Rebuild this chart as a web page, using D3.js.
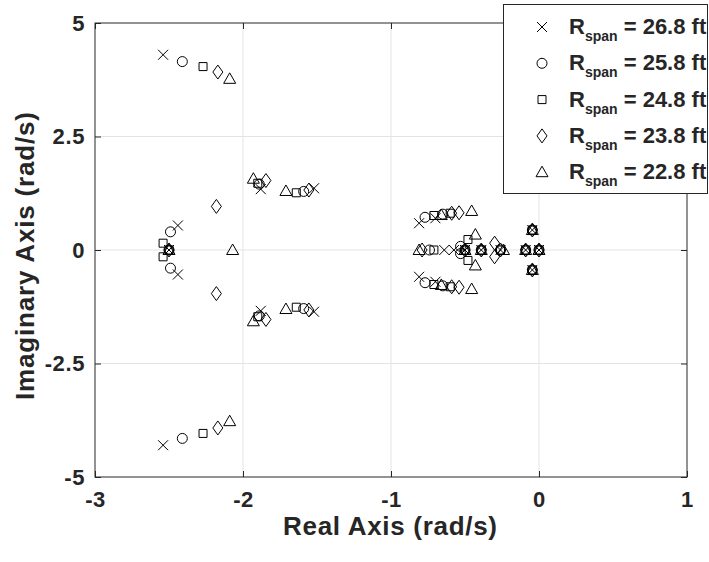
<!DOCTYPE html>
<html><head><meta charset="utf-8">
<script src="https://cdn.jsdelivr.net/npm/d3@7"></script>
<style>body{margin:0;background:#fff}svg{display:block}text{font-family:"Liberation Sans",Arial,sans-serif;font-weight:bold;fill:#262626}</style>
</head><body><svg id="c" width="709" height="562"></svg>
<script>
// ---- data ----
const spanLabels = ["26.8", "25.8", "24.8", "23.8", "22.8"];
const markerTypes = ["x", "circle", "square", "diamond", "triangle"];
const xTicks = [-3, -2, -1, 0, 1];
const yTicks = [-5, -2.5, 0, 2.5, 5];
const xLabel = "Real Axis (rad/s)";
const yLabel = "Imaginary Axis (rad/s)";

const poles268 = [[-2.54,4.30],[-2.54,-4.30],[-2.44,0.54],[-2.44,-0.54],[-2.50,0],
  [-1.88,1.34],[-1.88,-1.34],[-1.52,1.36],[-1.52,-1.36],
  [-0.81,0.59],[-0.81,-0.59],[-0.70,0.70],[-0.70,-0.70],
  [-0.64,0],[-0.575,0],[-0.50,0],[-0.39,0],[-0.26,0],
  [-0.09,0],[0,0],[-0.045,0.44],[-0.045,-0.44]];
const poles258 = [[-2.41,4.15],[-2.41,-4.15],[-2.49,0.40],[-2.49,-0.40],[-2.50,0],
  [-1.89,1.45],[-1.89,-1.45],[-1.59,1.29],[-1.59,-1.29],
  [-0.77,0.72],[-0.77,-0.72],[-0.65,0.79],[-0.65,-0.79],
  [-0.74,0],[-0.53,0.08],[-0.53,-0.08],[-0.50,0],[-0.39,0],[-0.26,0],
  [-0.09,0],[0,0],[-0.045,0.44],[-0.045,-0.44]];
const poles248 = [[-2.27,4.04],[-2.27,-4.04],[-2.54,0.15],[-2.54,-0.15],[-2.50,0],
  [-1.90,1.47],[-1.90,-1.47],[-1.64,1.26],[-1.64,-1.26],
  [-0.71,0.76],[-0.71,-0.76],[-0.60,0.81],[-0.60,-0.81],
  [-0.71,0],[-0.48,0.23],[-0.48,-0.23],[-0.50,0],[-0.39,0],[-0.26,0],
  [-0.09,0],[0,0],[-0.045,0.44],[-0.045,-0.44]];
const poles238 = [[-2.17,3.92],[-2.17,-3.92],[-2.18,0.96],[-2.18,-0.96],[-2.50,0],
  [-1.845,1.53],[-1.845,-1.53],[-1.555,1.32],[-1.555,-1.32],
  [-0.59,0.81],[-0.59,-0.81],[-0.54,0.82],[-0.54,-0.82],
  [-0.79,0],[-0.30,0.15],[-0.30,-0.15],[-0.50,0],[-0.39,0],[-0.26,0],
  [-0.09,0],[0,0],[-0.045,0.44],[-0.045,-0.44]];
const poles228 = [[-2.09,3.77],[-2.09,-3.77],[-2.07,0],[-2.50,0],
  [-1.93,1.57],[-1.93,-1.57],[-1.71,1.30],[-1.71,-1.30],
  [-0.66,0.77],[-0.66,-0.77],[-0.455,0.86],[-0.455,-0.86],
  [-0.81,0],[-0.43,0.34],[-0.43,-0.34],[-0.50,0],[-0.39,0],[-0.24,0],
  [-0.09,0],[0,0],[-0.045,0.44],[-0.045,-0.44]];
const seriesPoles = [poles268, poles258, poles248, poles238, poles228];

// ---- layout ----
const svg = d3.select("#c");
const L = 95, R = 687, T = 23, B = 477;
const x = d3.scaleLinear().domain([-3, 1]).range([L, R]);
const y = d3.scaleLinear().domain([-5, 5]).range([B, T]);
const axisColor = "#262626";

// grid
const g = svg.append("g");
g.selectAll("line.gx").data(xTicks.slice(1, -1)).enter().append("line")
  .attr("x1", d => x(d)).attr("x2", d => x(d)).attr("y1", T).attr("y2", B)
  .attr("stroke", "#e3e3e3").attr("stroke-width", 1);
g.selectAll("line.gy").data(yTicks.slice(1, -1)).enter().append("line")
  .attr("y1", d => y(d)).attr("y2", d => y(d)).attr("x1", L).attr("x2", R)
  .attr("stroke", "#e3e3e3").attr("stroke-width", 1);

// axes
const fmt = d => String(d);
function styleAxis(sel) {
  sel.select(".domain").remove();
  sel.selectAll(".tick line").attr("stroke", axisColor);
  sel.selectAll("text").attr("font-size", 22).attr("fill", axisColor)
    .style("letter-spacing", "0.6px")
    .style("font-family", '"Liberation Sans", Arial, sans-serif').style("font-weight", "bold");
}
svg.append("g").attr("transform", `translate(0,${B})`)
  .call(d3.axisBottom(x).tickValues(xTicks).tickFormat(fmt).tickSizeInner(-6).tickSizeOuter(0).tickPadding(14))
  .call(styleAxis);
svg.append("g").attr("transform", `translate(0,${T})`)
  .call(d3.axisTop(x).tickValues(xTicks).tickFormat("").tickSizeInner(-6).tickSizeOuter(0))
  .call(styleAxis);
svg.append("g").attr("transform", `translate(${L},0)`)
  .call(d3.axisLeft(y).tickValues(yTicks).tickFormat(fmt).tickSizeInner(-6).tickSizeOuter(0).tickPadding(10))
  .call(styleAxis);
svg.append("g").attr("transform", `translate(${R},0)`)
  .call(d3.axisRight(y).tickValues(yTicks).tickFormat("").tickSizeInner(-6).tickSizeOuter(0))
  .call(styleAxis);
svg.append("rect").attr("x", L).attr("y", T).attr("width", R - L).attr("height", B - T)
  .attr("fill", "none").attr("stroke", axisColor).attr("stroke-width", 1);

// axis labels
svg.append("text").attr("x", (L + R) / 2 - 1).attr("y", 535).attr("text-anchor", "middle")
  .attr("font-size", 26).attr("textLength", 214).attr("lengthAdjust", "spacing").text(xLabel);
svg.append("text").attr("transform", `translate(34,256) rotate(-90)`)
  .attr("text-anchor", "middle").attr("font-size", 26)
  .attr("textLength", 288).attr("lengthAdjust", "spacing").text(yLabel);

// markers
function markerPath(type) {
  switch (type) {
    case "x": return "M-5,-5L5,5M-5,5L5,-5";
    case "circle": return "M5,0A5,5 0 1,1 -5,0A5,5 0 1,1 5,0Z";
    case "square": return "M-4,-4H4V4H-4Z";
    case "diamond": return "M0,-7L5,0L0,7L-5,0Z";
    case "triangle": return "M0,-6L6,4.5L-6,4.5Z";
  }
}
seriesPoles.forEach((pts, i) => {
  svg.append("g").selectAll("path").data(pts).enter().append("path")
    .attr("transform", d => `translate(${x(d[0])},${y(d[1])})`)
    .attr("d", markerPath(markerTypes[i]))
    .attr("fill", "none").attr("stroke", "#000").attr("stroke-width", 1);
});

// legend
const lg = svg.append("g");
lg.append("rect").attr("x", 503.5).attr("y", 4.5).attr("width", 204).attr("height", 189)
  .attr("fill", "#fff").attr("stroke", axisColor).attr("stroke-width", 1);
spanLabels.forEach((lab, i) => {
  const cy = 27 + i * 36.3;
  lg.append("path").attr("transform", `translate(542,${cy})`).attr("d", markerPath(markerTypes[i]))
    .attr("fill", "none").attr("stroke", "#000").attr("stroke-width", 1);
  const t = lg.append("text").attr("x", 569).attr("y", cy + 7).attr("font-size", 22)
    .attr("fill", "#000");
  t.append("tspan").text("R");
  t.append("tspan").attr("font-size", 14).attr("dy", 7).text("span");
  t.append("tspan").attr("dy", -7).text(" = " + lab + " ft");
});
</script></body></html>
